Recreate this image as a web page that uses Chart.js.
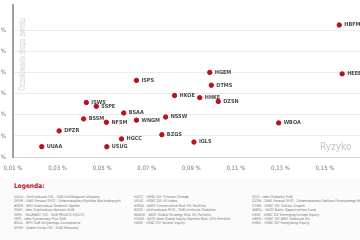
<!DOCTYPE html>
<html lang="pl">
<head>
<meta charset="UTF-8">
<title>Ryzyko a oczekiwana stopa zwrotu</title>
<script src="https://cdn.jsdelivr.net/npm/chart.js"></script>
<style>
  body {
    margin: 0;
    width: 360px;
    height: 240px;
    overflow: hidden;
    background: #fff;
    position: relative;
    font-family: 'Liberation Sans Narrow', 'DejaVu Sans Condensed', sans-serif;
  }
  .chart-box { position: absolute; left: -30px; top: -6px; width: 417px; height: 184px; }
  .y-title {
    position: absolute; left: 22px; top: 54px;
    transform: translate(-50%, -50%) rotate(-90deg) scaleX(0.7);
    white-space: nowrap; font-size: 9px; color: #cfcfcf;
  }
  .x-title { position: absolute; left: 320px; top: 141px; font-size: 10px; color: #c4c4c4; }
  .legend-box { position: absolute; left: 0; top: 178px; width: 360px; height: 62px; background: #fbfbfb; }
  .legend-title { position: absolute; left: 14px; top: 4px; font-size: 6.5px; font-weight: bold; color: #c0102a; }
  .legend-col { position: absolute; top: 17px; font-size: 3.6px; line-height: 4.4px; color: #777; white-space: nowrap; }
</style>
</head>
<body>
<div class="chart-box"><canvas id="riskChart"></canvas></div>
<div class="y-title">Oczekiwana stopa zwrotu</div>
<div class="x-title">Ryzyko</div>
<div class="legend-box">
  <div class="legend-title">Legenda:</div>
  <div class="legend-col" id="col1" style="left:14px"></div>
  <div class="legend-col" id="col2" style="left:134px"></div>
  <div class="legend-col" id="col3" style="left:252px"></div>
</div>
<script>
// fund codes, risk (x) and expected return (y), in %
const codes = ['UUAA', 'DPZR', 'BSSM', 'ISWS', 'SSPE', 'NFSM', 'USUG', 'HGCC', 'BSAA', 'WNGM', 'ISPS',
               'BZGS', 'NSSW', 'HKOE', 'IGLS', 'HHKE', 'HGEM', 'DTMS', 'DZSN', 'WBOA', 'HBFM', 'HEEE'];
const risk = [0.0229, 0.0307, 0.0417, 0.0429, 0.0474, 0.0519, 0.0521, 0.0587, 0.0597, 0.0654, 0.0654,
              0.0768, 0.0785, 0.0825, 0.0912, 0.0938, 0.0983, 0.0990, 0.1021, 0.1292, 0.1564, 0.1577];
const expReturn = [0.0049, 0.0124, 0.0181, 0.0259, 0.0241, 0.0165, 0.0049, 0.0086, 0.0209, 0.0175, 0.0364,
                   0.0106, 0.0190, 0.0292, 0.0071, 0.0282, 0.0402, 0.0341, 0.0264, 0.0162, 0.0627, 0.0395];

const legendCol1 = [
  'UUAA - UniFundusze FIO - SUB UniObligacje Aktywny',
  'DPZR - DWS Parasol SFIO - Zrównoważony Rynków Wschodzących',
  'BSSM - BPH Subfundusz Średnich Spółek',
  'ISWS - Ideo Subfundusz Wzrostu SUB',
  'SSPE - SKARBIEC FIO - SUB PRIVATE EQUITY',
  'ISPS - Ideo Surowcowy Plus SUB',
  'BSAA - BPH SUB Aktywnego Zarządzania',
  'NFSM - Noble Funds FIO - SUB Mieszany'
];
const legendCol2 = [
  'HGCC - HSBC GIF Climate Change',
  'USUG - HSBC GIF US Index',
  'NSSW - WIOF Conservative Risk 3% Portfolio',
  'BZGS - UniFundusze SFIO - SUB UniAkcje Globalne',
  'WNGM - WIOF Global Strategy Risk 5% Portfolio',
  'HGEM - WIOF New Global Equity Markets Risk 10% Portfolio',
  'HKOE - HSBC GIF Korean Equity'
];
const legendCol3 = [
  'IGLS - Ideo Globalny SUB',
  'DZSN - DWS Parasol SFIO - Zrównoważony Sektora Finansowego Rynków Wschodzących',
  'DTMS - HSBC GIF Turkish Growth',
  'WBOA - WIOF Baltic Opportunities Fund',
  'HEEE - HSBC GIF Emerging Europe Equity',
  'HBFM - HSBC GIF BRIC Freestyle M1',
  'HHKE - HSBC GIF Hong Kong Equity'
];

document.getElementById('col1').innerHTML = legendCol1.join('<br>');
document.getElementById('col2').innerHTML = legendCol2.join('<br>');
document.getElementById('col3').innerHTML = legendCol3.join('<br>');

const fontFamily = "'Liberation Sans Narrow', 'DejaVu Sans Condensed', sans-serif";
const fmt = v => v.toFixed(2).replace('.', ',') + ' %';

// draws the fund code next to each point
const pointLabels = {
  id: 'pointLabels',
  afterDatasetsDraw(chart) {
    const ctx = chart.ctx;
    const meta = chart.getDatasetMeta(0);
    ctx.save();
    ctx.font = 'bold 5.5px ' + fontFamily;
    ctx.fillStyle = '#4a4a4a';
    ctx.textBaseline = 'middle';
    meta.data.forEach((pt, i) => {
      ctx.fillText(codes[i], pt.x + 5, pt.y);
    });
    ctx.restore();
  }
};

new Chart(document.getElementById('riskChart'), {
  type: 'scatter',
  data: {
    datasets: [{
      data: codes.map((c, i) => ({ x: risk[i] * 100, y: expReturn[i] * 100 })),
      backgroundColor: '#b5121b',
      borderColor: '#b5121b',
      pointRadius: 2.2,
      pointHoverRadius: 2.2
    }]
  },
  options: {
    responsive: true,
    maintainAspectRatio: false,
    animation: false,
    layout: { padding: { top: 0, right: 0 } },
    plugins: { legend: { display: false }, tooltip: { enabled: false } },
    scales: {
      x: {
        min: 1, max: 17,
        border: { color: '#d6d6d6', width: 1 },
        grid: { display: false, drawTicks: false },
        afterFit: s => { s.height = 21; },
        afterBuildTicks: s => { s.ticks = s.ticks.filter(t => Math.round(t.value) % 2 === 1); },
        ticks: {
          stepSize: 1,
          padding: 8,
          color: '#777',
          font: { size: 6, family: fontFamily },
          maxRotation: 0,
          callback: v => fmt(v / 100)
        }
      },
      y: {
        min: 0, max: 7.24,
        border: { color: '#a0a0a0', width: 2 },
        grid: { color: '#ececec', drawTicks: false },
        afterFit: s => { s.width = 43; },
        afterBuildTicks: s => { s.ticks = s.ticks.filter(t => Math.abs(t.value - Math.round(t.value)) < 1e-6); },
        ticks: {
          stepSize: 1,
          padding: 7,
          color: '#777',
          font: { size: 6, family: fontFamily },
          callback: v => fmt(v / 100)
        }
      }
    }
  },
  plugins: [pointLabels]
});
</script>
</body>
</html>
